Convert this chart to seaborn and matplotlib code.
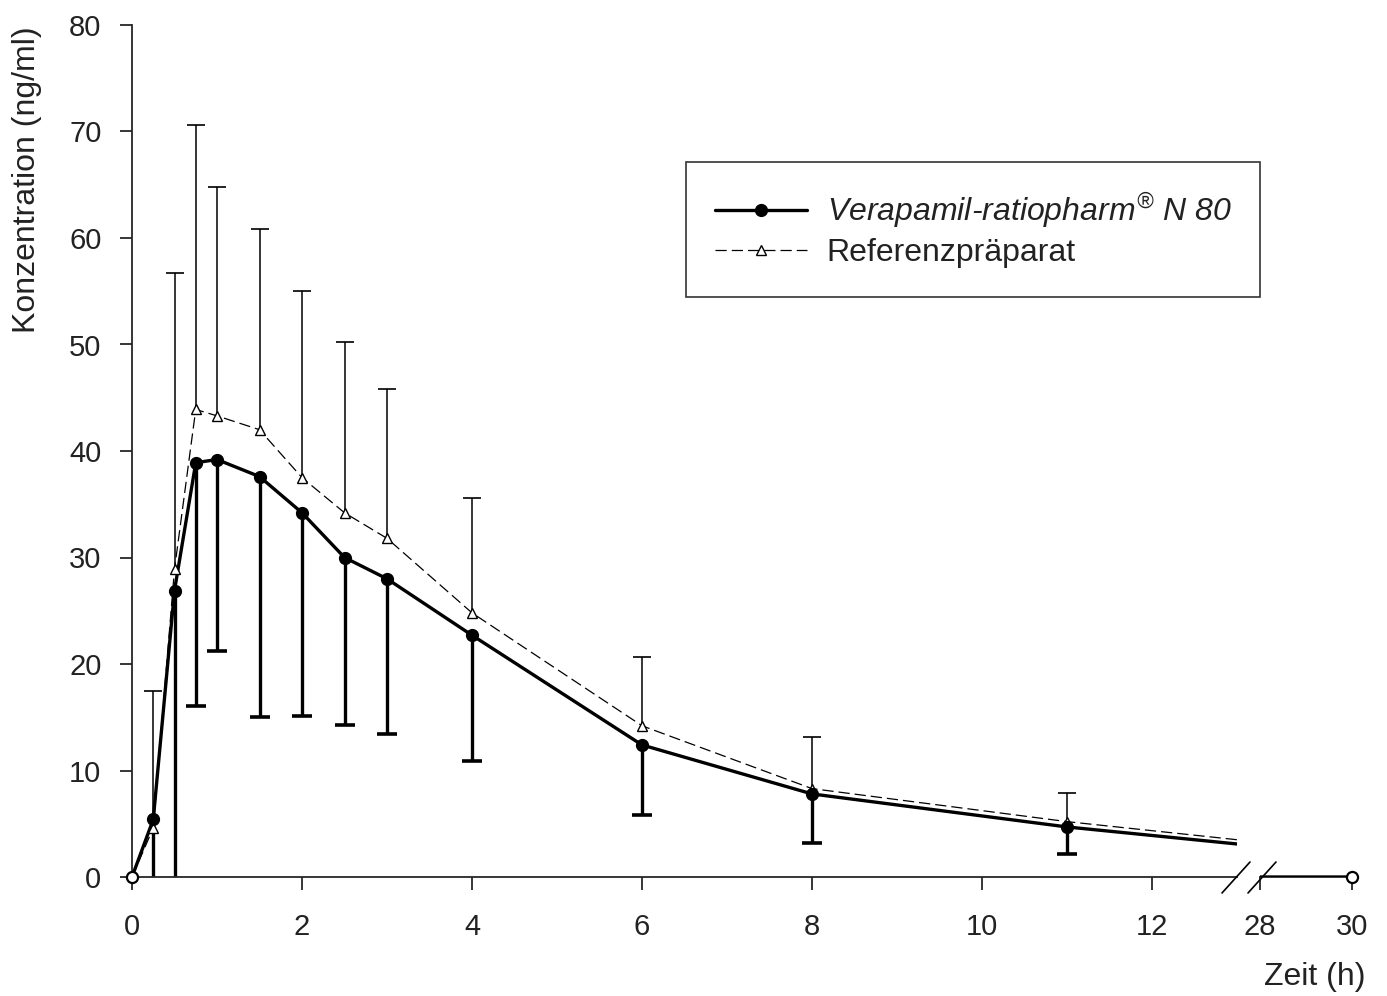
import numpy as np
import pandas as pd
import seaborn as sns
import matplotlib.pyplot as plt
from matplotlib.lines import Line2D

# time points (h); 13 is where the curve is cut by the axis break, 28 is the start of the tail
zeit = [0, 0.25, 0.5, 0.75, 1, 1.5, 2, 2.5, 3, 4, 6, 8, 11, 13, 28, 30]
# mean concentrations (ng/ml)
test_mean = [0, 5.4, 26.9, 38.9, 39.2, 37.6, 34.2, 30.0, 28.0, 22.7, 12.4, 7.8, 4.7, 3.1, 0, 0]
ref_mean = [0, 4.6, 28.9, 43.9, 43.3, 42.0, 37.5, 34.2, 31.8, 24.8, 14.2, 8.3, 5.2, 3.5, 0, 0]
# error bar ends: lower for test, upper for reference
test_lower = [0, 0, 0, 16.1, 21.2, 15.0, 15.1, 14.3, 13.4, 10.9, 5.8, 3.2, 2.2, 3.1, 0, 0]
ref_upper = [0, 17.5, 56.7, 70.6, 64.8, 60.8, 55.0, 50.2, 45.8, 35.6, 20.7, 13.1, 7.9, 3.5, 0, 0]
# which rows are real measurements (get markers / error bars)
measured = [True] * 13 + [False, False, True]

df = pd.DataFrame({"zeit": zeit, "test": test_mean, "ref": ref_mean,
                   "lo": test_lower, "hi": ref_upper, "measured": measured})
meas = df[df["measured"]]
bars = meas[(meas["zeit"] > 0) & (meas["zeit"] < 30)]

sns.set_style("ticks")
plt.rcParams["font.family"] = ["Liberation Sans", "DejaVu Sans"]
# only the legend entry uses mathtext, and it is all italic
plt.rcParams["mathtext.fontset"] = "custom"
plt.rcParams["mathtext.it"] = "Liberation Sans:italic"
plt.rcParams["mathtext.rm"] = "Liberation Sans:italic"

W, H = 1387, 996
fig = plt.figure(figsize=(W / 100, H / 100), dpi=100)
bottom = (H - 877) / H
height = (877 - 25) / H
ax1 = fig.add_axes([132 / W, bottom, (1237 - 132) / W, height])
ax2 = fig.add_axes([1260 / W, bottom, (1352 - 1260) / W, height], sharey=ax1)

for ax in (ax1, ax2):
    # one-sided error bars: test downwards (thick), reference upwards (thin)
    ax.vlines(bars["zeit"], bars["lo"], bars["test"], color="black", linewidth=2.4, zorder=2)
    caps_lo = bars[bars["lo"] > 0]
    ax.plot(caps_lo["zeit"], caps_lo["lo"], linestyle="none", marker="_", markersize=14,
            markeredgewidth=2.6, color="black", zorder=2)
    ax.vlines(bars["zeit"], bars["ref"], bars["hi"], color="black", linewidth=1.1, zorder=2)
    ax.plot(bars["zeit"], bars["hi"], linestyle="none", marker="_", markersize=13,
            markeredgewidth=1.2, color="black", zorder=2)

    sns.lineplot(data=df, x="zeit", y="ref", ax=ax, color="black", linewidth=0.9,
                 linestyle=(0, (9, 4)), zorder=3)
    sns.lineplot(data=df, x="zeit", y="test", ax=ax, color="black", linewidth=2.4, zorder=4)
    ends = meas[(meas["zeit"] == 0) | (meas["zeit"] == 30)]
    ax.plot(bars["zeit"], bars["ref"], linestyle="none", marker="^", markersize=7.5,
            markerfacecolor="white", markeredgecolor="black", markeredgewidth=1.0, zorder=5)
    ax.plot(bars["zeit"], bars["test"], linestyle="none", marker="o", markersize=8.5,
            color="black", zorder=6)
    ax.plot(ends["zeit"], ends["test"], linestyle="none", marker="o", markersize=8,
            markerfacecolor="white", markeredgecolor="black", markeredgewidth=1.6,
            zorder=7, clip_on=False)
    ax.set_xlabel("")
    ax.set_ylabel("")
    ax.tick_params(direction="out", length=9, width=1.3, labelsize=21, pad=13,
                   labelcolor="#222222")
    ax.tick_params(axis="x", pad=17)
    for s in ("top", "right"):
        ax.spines[s].set_visible(False)
    ax.spines["bottom"].set_linewidth(1.3)
    ax.spines["left"].set_linewidth(1.3)

ax1.set_xlim(0, 13)
ax1.set_ylim(0, 80)
ax1.set_xticks(np.arange(0, 13, 2))
ax1.set_yticks(np.arange(0, 81, 10))

ax2.set_xlim(28, 30)
ax2.set_xticks([28, 30])
ax2.spines["left"].set_visible(False)
ax2.tick_params(axis="y", left=False, labelleft=False)

# axis break slashes
for xc in (1236, 1262):
    fig.add_artist(Line2D([(xc - 14) / W, (xc + 14) / W], [(H - 893) / H, (H - 862) / H],
                          color="black", linewidth=1.2))

fig.text(27 / W, 1 - 180 / H, "Konzentration (ng/ml)", rotation=90, ha="center", va="center",
         fontsize=23, color="#222222")
fig.text(1315 / W, 1 - 977 / H, "Zeit (h)", ha="center", va="center", fontsize=23, color="#222222")

handles = [
    Line2D([], [], color="black", linewidth=2.4, marker="o", markersize=8.5),
    Line2D([], [], color="black", linewidth=0.9, linestyle=(0, (9, 4)), marker="^", markersize=7.5,
           markerfacecolor="white", markeredgecolor="black"),
]
labels = [r"$\mathit{Verapamil}$-$\mathit{ratiopharm}^{®}\ \mathit{N\ 80}$", "Referenzpräparat"]
leg = fig.legend(handles, labels, loc="upper left",
                 bbox_to_anchor=(686 / W, 1 - 162 / H), bbox_transform=fig.transFigure,
                 fontsize=23, frameon=True, fancybox=False, handlelength=2.9,
                 borderpad=0.9, labelspacing=0.25, handletextpad=0.6, borderaxespad=0)
leg.get_frame().set_edgecolor("black")
leg.get_frame().set_linewidth(1.2)
for t in leg.get_texts():
    t.set_color("#222222")
leg.get_texts()[0].set_fontstyle("italic")

fig.savefig("out.png", dpi=100)
